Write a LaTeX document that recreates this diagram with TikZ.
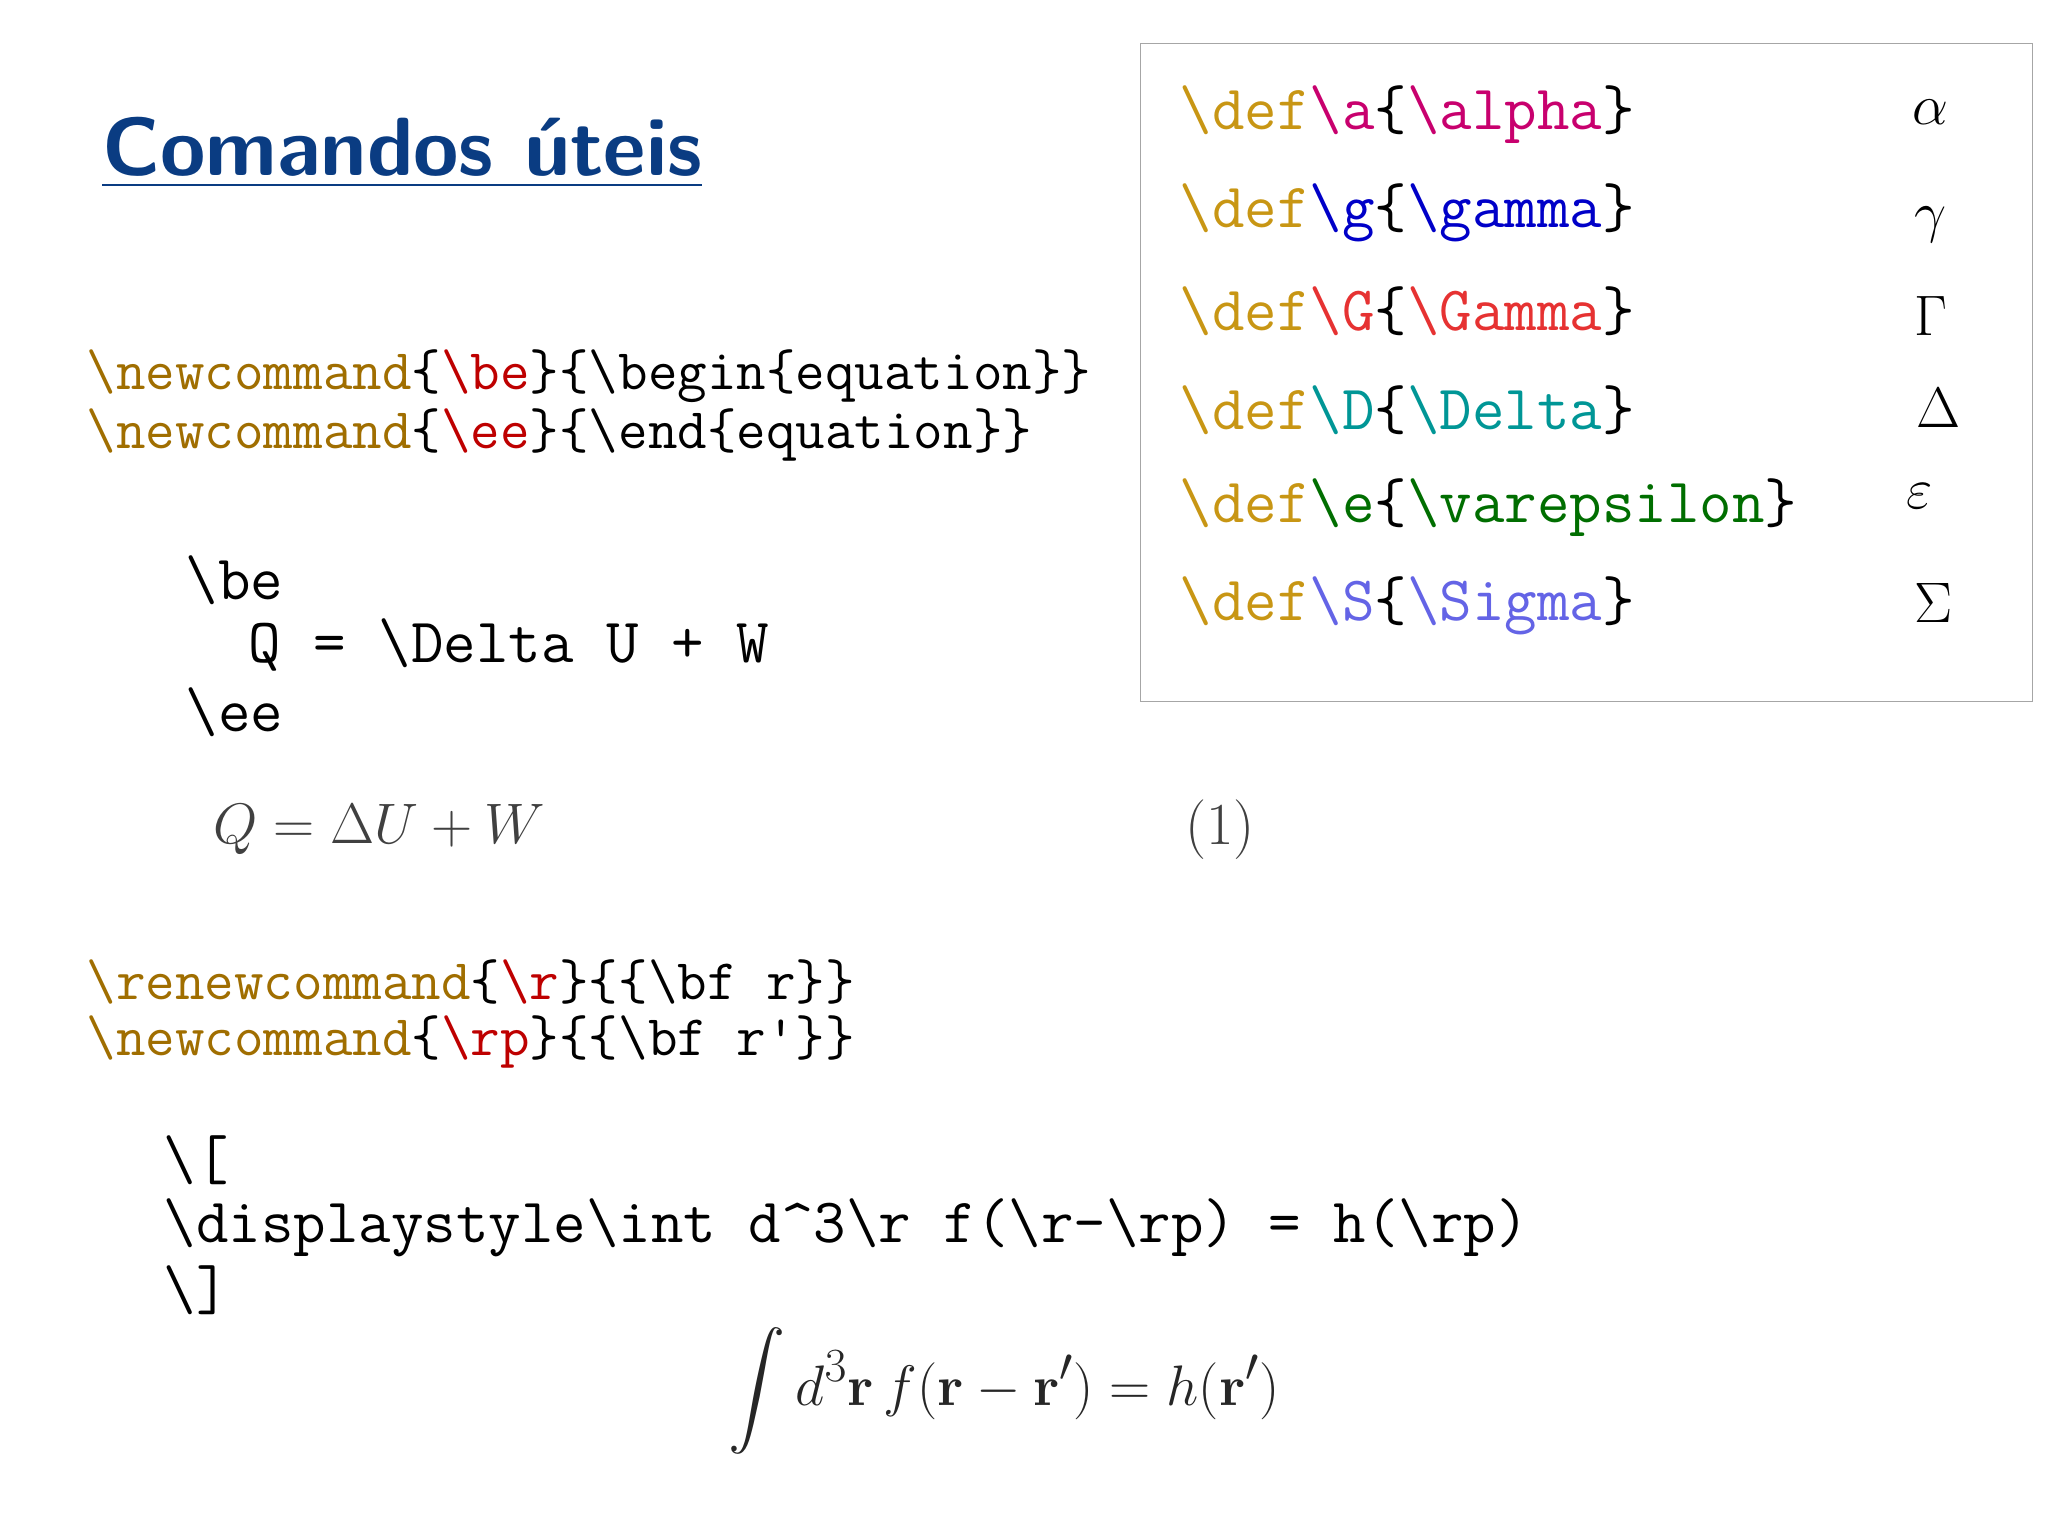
\documentclass[tikz,border=0pt]{standalone}
\usepackage{amsmath}
\begin{document}
\begin{tikzpicture}[x=0.02cm,y=-0.02cm,
 code/.style={anchor=west,inner sep=0pt,font=\fontsize{27.5}{30}\ttfamily},
 codes/.style={anchor=west,inner sep=0pt,font=\fontsize{25}{28}\ttfamily},
 sym/.style={anchor=center,inner sep=0pt,font=\fontsize{78}{84}\selectfont}]
\definecolor{gold}{RGB}{200,150,20}
\definecolor{brn}{RGB}{160,110,0}
\definecolor{rd}{RGB}{190,0,0}
\definecolor{ttl}{RGB}{10,60,130}
\definecolor{ca}{RGB}{200,0,110}
\definecolor{cg}{RGB}{0,0,200}
\definecolor{cG}{RGB}{230,50,50}
\definecolor{cD}{RGB}{0,150,150}
\definecolor{ce}{RGB}{0,110,0}
\definecolor{cS}{RGB}{100,100,230}
\useasboundingbox (0,0) rectangle (1568,1175);
\fill[white] (0,0) rectangle (1568,1175);
\node[anchor=west,inner sep=0pt,text=ttl,font=\fontsize{36}{42}\sffamily\bfseries] (title) at (78,117) {\underline{Comandos úteis}};
\draw[gray!70] (873,33) rectangle (1556,537);
\node[code] (d1) at (903,88) {\textcolor{gold}{\textbackslash def}\textcolor{ca}{\textbackslash a}\{\textcolor{ca}{\textbackslash alpha}\}};
\node[code] (d2) at (903,163) {\textcolor{gold}{\textbackslash def}\textcolor{cg}{\textbackslash g}\{\textcolor{cg}{\textbackslash gamma}\}};
\node[code] (d3) at (903,238) {\textcolor{gold}{\textbackslash def}\textcolor{cG}{\textbackslash G}\{\textcolor{cG}{\textbackslash Gamma}\}};
\node[code] (d4) at (903,314) {\textcolor{gold}{\textbackslash def}\textcolor{cD}{\textbackslash D}\{\textcolor{cD}{\textbackslash Delta}\}};
\node[code] (d5) at (903,389) {\textcolor{gold}{\textbackslash def}\textcolor{ce}{\textbackslash e}\{\textcolor{ce}{\textbackslash varepsilon}\}};
\node[code] (d6) at (903,464) {\textcolor{gold}{\textbackslash def}\textcolor{cS}{\textbackslash S}\{\textcolor{cS}{\textbackslash Sigma}\}};
\node[sym] (s1) at (1478,86) {$\alpha$};
\node[sym] (s2) at (1478,172) {$\gamma$};
\node[sym] (s3) at (1478,242) {$\Gamma$};
\node[sym] (s4) at (1484,312) {$\Delta$};
\node[sym] (s5) at (1470,380) {$\varepsilon$};
\node[sym] (s6) at (1480,462) {$\Sigma$};
\node[codes] (n1) at (66,288) {\textcolor{brn}{\textbackslash newcommand}\{\textcolor{rd}{\textbackslash be}\}\{\textbackslash begin\{equation\}\}};
\node[codes] (n2) at (66,333) {\textcolor{brn}{\textbackslash newcommand}\{\textcolor{rd}{\textbackslash ee}\}\{\textbackslash end\{equation\}\}};
\node[code] (b1) at (142,444) {\textbackslash be};
\node[code] (b2) at (190,494) {Q = \textbackslash Delta U + W};
\node[code] (b3) at (142,545) {\textbackslash ee};
\node[anchor=west,inner sep=0pt,text=black!75,font=\fontsize{26}{30}\selectfont] (eq) at (163,635) {$Q=\Delta U+W$};
\node[anchor=center,inner sep=0pt,text=black!75,font=\fontsize{26}{30}\selectfont] (num) at (934,635) {(1)};
\node[codes] (r1) at (66,752) {\textcolor{brn}{\textbackslash renewcommand}\{\textcolor{rd}{\textbackslash r}\}\{\{\textbackslash bf r\}\}};
\node[codes] (r2) at (66,798) {\textcolor{brn}{\textbackslash newcommand}\{\textcolor{rd}{\textbackslash rp}\}\{\{\textbackslash bf r'\}\}};
\node[code] (i1) at (125,888) {\textbackslash [};
\node[code] (i2) at (125,940) {\textbackslash displaystyle\textbackslash int d\^{}3\textbackslash r f(\textbackslash r-\textbackslash rp) = h(\textbackslash rp)};
\node[code] (i3) at (125,988) {\textbackslash ]};
\node[anchor=center,inner sep=0pt,text=black!85,font=\fontsize{28.5}{32}\selectfont] (int) at (769,1065) {$\displaystyle\int d^3\mathbf{r}\,f(\mathbf{r}-\mathbf{r}')=h(\mathbf{r}')$};
\end{tikzpicture}
\end{document}
